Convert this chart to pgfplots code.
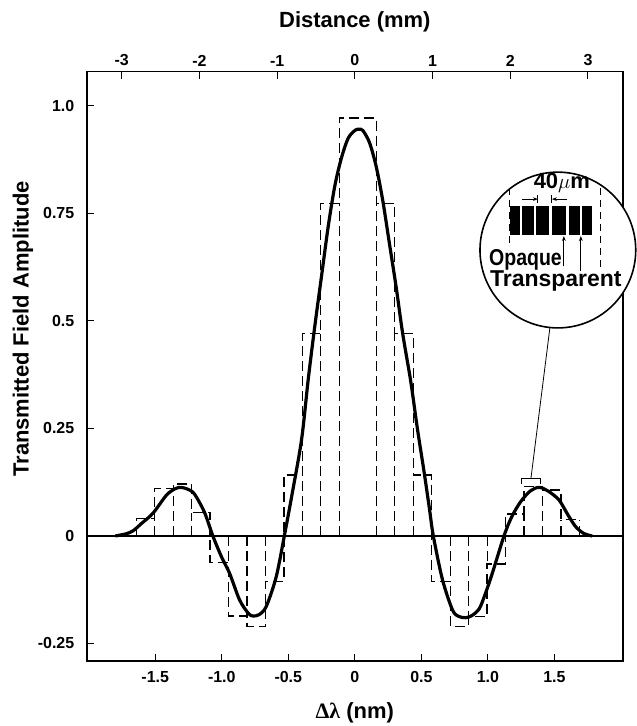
\documentclass[border=0pt]{standalone}
\usepackage{fontspec}
\setmainfont{Liberation Sans}
\newfontfamily\symf{Liberation Serif}
\usepackage{pgfplots}
\pgfplotsset{compat=1.18}
\usetikzlibrary{arrows.meta}

\begin{document}
\begin{tikzpicture}
\begin{axis}[
  width=537pt, height=590pt, scale only axis,
  xmin=-2.015, xmax=2.015, ymin=-0.29, ymax=1.08,
  axis line style={line width=1.8pt},
  xtick={-1.5,-1,-0.5,0,0.5,1,1.5},
  xticklabels={-1.5,-1.0,-0.5,0,0.5,1.0,1.5},
  ytick={-0.25,0,0.25,0.5,0.75,1},
  yticklabels={-0.25,0,0.25,0.5,0.75,1.0},
  xtick pos=bottom, ytick pos=left,
  tick align=inside, major tick length=7pt,
  tick style={line width=1pt, black},
  ticklabel style={font=\bfseries\fontsize{16}{16}\selectfont},
  xticklabel style={yshift=-7pt},
  yticklabel style={xshift=-9pt},
  xlabel={{\symf Δλ} (nm)},
  xlabel style={at={(axis description cs:0.5,0)}, anchor=north, inner sep=0pt, yshift=-42pt},
  ylabel={Transmitted Field Amplitude},
  ylabel style={at={(axis description cs:0,0.563)}, anchor=center, yshift=64pt},
  label style={font=\bfseries\fontsize{22}{22}\selectfont},
  clip=false,
]
% stepped mask approximation: tops of the steps
\addplot[const plot, black, line width=1.2pt, dash pattern=on 10pt off 5pt]
  coordinates {(-1.6431,0.041) (-1.5043,0.111) (-1.3655,0.121) (-1.2267,0.054)
  (-1.0879,-0.062) (-0.9491,-0.186) (-0.8103,-0.211) (-0.6715,-0.106)
  (-0.5327,0.142) (-0.3939,0.470) (-0.2551,0.774) (-0.1163,0.972)
  (0.1613,0.774) (0.3001,0.470) (0.4389,0.142) (0.5777,-0.106)
  (0.7165,-0.210) (0.8553,-0.187) (0.9941,-0.065) (1.1329,0.051)
  (1.2717,0.116) (1.4105,0.107) (1.5493,0.038) (1.6881,0.038)};
% step edges down to zero
\addplot[ycomb, black, line width=1.1pt, dash pattern=on 10pt off 5pt]
  coordinates {(-1.6431,0.041) (-1.5043,0.041) (-1.3655,0.111) (-1.2267,0.054)
  (-0.9491,-0.062) (-0.8103,-0.186) (-0.6715,-0.106) (-0.3939,0.142)
  (-0.2551,0.470) (-0.1163,0.774) (0.1613,0.774) (0.3001,0.470)
  (0.4389,0.142) (0.7165,-0.106) (0.8553,-0.187) (0.9941,-0.065)
  (1.2717,0.051) (1.4105,0.107) (1.5493,0.038) (1.6881,0.038)};
\addplot[black, line width=1.2pt] coordinates {(-2.015,0) (2.015,0)};
% transmitted field
\addplot[black, line width=3.2pt, smooth, tension=0.5] coordinates {
  (-1.80,0) (-1.72,0.005) (-1.667,0.012) (-1.60,0.030) (-1.517,0.053)
  (-1.416,0.095) (-1.35,0.110) (-1.304,0.113) (-1.25,0.108) (-1.204,0.097)
  (-1.13,0.055) (-1.067,0) (-1.00,-0.050) (-0.941,-0.087) (-0.866,-0.149)
  (-0.80,-0.180) (-0.767,-0.186) (-0.72,-0.183) (-0.666,-0.164) (-0.591,-0.095)
  (-0.53,0) (-0.47,0.10) (-0.40,0.225) (-0.35,0.365) (-0.30,0.49)
  (-0.25,0.605) (-0.20,0.72) (-0.15,0.815) (-0.10,0.88) (-0.05,0.925)
  (0.0,0.943) (0.03,0.946) (0.06,0.943) (0.11,0.915) (0.16,0.86)
  (0.21,0.78) (0.26,0.68) (0.31,0.58) (0.36,0.47) (0.42,0.36)
  (0.47,0.25) (0.52,0.15) (0.56,0.065) (0.59,0) (0.659,-0.102)
  (0.734,-0.172) (0.78,-0.187) (0.834,-0.190) (0.88,-0.185) (0.934,-0.170)
  (0.98,-0.135) (1.034,-0.086) (1.121,0) (1.18,0.045) (1.247,0.080)
  (1.32,0.105) (1.384,0.113) (1.45,0.105) (1.534,0.084) (1.60,0.05)
  (1.659,0.022) (1.72,0.006) (1.784,0)};
\coordinate (C) at (axis cs:1.526,0.665);
\path (axis cs:-2.667,1.2465) rectangle (axis cs:2.112,-0.4419);
\end{axis}

\begin{axis}[
  width=537pt, height=590pt, scale only axis,
  xmin=-3.45, xmax=3.45, ymin=0, ymax=1,
  axis x line*=top, axis y line=none,
  axis line style={line width=1.8pt},
  xtick={-3,-2,-1,0,1,2,3},
  xticklabels={-3,-2,-1,0,1,2,3},
  tick align=inside, major tick length=7pt,
  tick style={line width=1pt, black},
  ticklabel style={font=\bfseries\fontsize{16}{16}\selectfont},
  xticklabel style={yshift=2pt},
  xlabel={Distance (mm)},
  xlabel style={at={(axis description cs:0.5,1)}, anchor=south, inner sep=0pt, yshift=39pt},
  label style={font=\bfseries\fontsize{22}{22}\selectfont},
]
\addplot[draw=none] coordinates {(0,0.5)};
\end{axis}

% inset: mask detail
\begin{scope}[shift={(C)}, x=1pt, y=-1pt]
  \draw[line width=0.8pt] (-8,78) -- (-27,229);
  \draw[line width=1pt] (-36,234) -- (-36,229) -- (-17,229) -- (-17,234);
  \draw[line width=1.6pt, fill=white] (0,0) circle[radius=78pt];
  \fill (-48,-44) rectangle (-38.3,-15);
  \fill (-35.7,-44) rectangle (-24,-15);
  \fill (-22.3,-44) rectangle (-9,-15);
  \fill (-5.7,-44) rectangle (8.5,-15);
  \fill (11,-44) rectangle (21.7,-15);
  \fill (24.3,-44) rectangle (34.3,-15);
  \draw[line width=1pt, dash pattern=on 7pt off 5pt] (-48,-62) -- (-48,-4);
  \draw[line width=1pt, dash pattern=on 7pt off 5pt] (43,-62) -- (43,20);
  \draw[line width=0.9pt] (-20,-55) -- (-20,-47);
  \draw[line width=0.9pt] (-6,-55) -- (-6,-47);
  \draw[line width=0.9pt, -{Stealth[length=5pt]}] (-36,-51) -- (-20,-51);
  \draw[line width=0.9pt, -{Stealth[length=5pt]}] (9,-51) -- (-6,-51);
  \draw[line width=0.9pt, -{Stealth[length=5pt]}] (6,16) -- (6,-14);
  \draw[line width=0.9pt, -{Stealth[length=5pt]}] (23,21) -- (23,-14);
  \node[anchor=base, inner sep=0pt, font=\bfseries\fontsize{22}{22}\selectfont] at (4,-62) {40$\mu$m};
  \node[anchor=base west, inner sep=0pt, font=\bfseries\fontsize{23}{23}\selectfont] at (-69,15) {\scalebox{0.85}[1]{Opaque}};
  \node[anchor=base west, inner sep=0pt, font=\bfseries\fontsize{23}{23}\selectfont] at (-68,37) {Transparent};
\end{scope}
\end{tikzpicture}
\end{document}
